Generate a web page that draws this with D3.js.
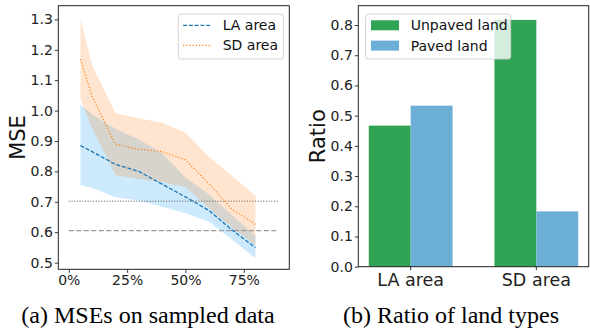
<!DOCTYPE html>
<html>
<head>
<meta charset="utf-8">
<script src="https://cdn.jsdelivr.net/npm/d3@7"></script>
<style>
  body { margin: 0; background: #fff; }
  svg { display: block; }
</style>
</head>
<body>
<svg id="fig" width="590" height="332"></svg>
<script>
// ---- data: left panel (MSE vs sampling ratio)
const fracs   = [0.05, 0.1, 0.2, 0.3, 0.4, 0.5, 0.6, 0.7, 0.8];
const laMean  = [0.885, 0.865, 0.823, 0.800, 0.758, 0.716, 0.672, 0.607, 0.549];
const laHigh  = [1.020, 0.988, 0.940, 0.905, 0.860, 0.780, 0.725, 0.655, 0.588];
const laLow   = [0.755, 0.745, 0.715, 0.704, 0.684, 0.662, 0.635, 0.575, 0.514];
const sdMean  = [1.169, 1.046, 0.889, 0.873, 0.865, 0.838, 0.760, 0.675, 0.626];
const sdHigh  = [1.300, 1.150, 0.991, 0.975, 0.960, 0.928, 0.849, 0.785, 0.720];
const sdLow   = [1.038, 0.942, 0.788, 0.775, 0.765, 0.748, 0.680, 0.615, 0.558];
const refDotted = 0.702;   // thin dotted reference
const refDashed = 0.605;   // gray dashed reference
const refSpan   = [0, 0.9];
const pctTicks  = [0, 0.25, 0.5, 0.75];
const mseTicks  = [0.5, 0.6, 0.7, 0.8, 0.9, 1.0, 1.1, 1.2, 1.3];
const lineNames = ["LA area", "SD area"];

// ---- data: right panel (land type ratio)
const areas      = ["LA area", "SD area"];
const landTypes  = ["Unpaved land", "Paved land"];
const unpaved    = [0.467, 0.817];
const paved      = [0.533, 0.183];
const ratioTicks = [0.0, 0.1, 0.2, 0.3, 0.4, 0.5, 0.6, 0.7, 0.8];

const captions = ["(a) MSEs on sampled data", "(b) Ratio of land types"];

const FONT = "'DejaVu Sans', sans-serif";
const svg = d3.select("#fig");

// ================= left panel =================
const L = { left: 58.3, right: 289.3, top: 5.7, bottom: 269.3 };
const x = d3.scaleLinear().domain([-0.045, 0.945]).range([L.left, L.right]);
const y = d3.scaleLinear().domain([0.478, 1.345]).range([L.bottom, L.top]);

svg.append("clipPath").attr("id", "clipL").append("rect")
  .attr("x", L.left).attr("y", L.top)
  .attr("width", L.right - L.left).attr("height", L.bottom - L.top);

const gl = svg.append("g").attr("clip-path", "url(#clipL)");
const idx = d3.range(fracs.length);

const band = (lo, hi) => d3.area()
  .x(i => x(fracs[i])).y0(i => y(lo[i])).y1(i => y(hi[i]));
const line = vals => d3.line().x(i => x(fracs[i])).y(i => y(vals[i]));

gl.append("path").attr("d", band(laLow, laHigh)(idx))
  .attr("fill", "rgb(0,150,240)").attr("fill-opacity", 0.2);
gl.append("path").attr("d", band(sdLow, sdHigh)(idx))
  .attr("fill", "#ff7f0e").attr("fill-opacity", 0.2);

// reference lines
gl.append("line")
  .attr("x1", x(refSpan[0])).attr("x2", x(refSpan[1]))
  .attr("y1", y(refDotted)).attr("y2", y(refDotted))
  .attr("stroke", "#555").attr("stroke-width", 1).attr("stroke-dasharray", "1,1.7");
gl.append("line")
  .attr("x1", x(refSpan[0])).attr("x2", x(refSpan[1]))
  .attr("y1", y(refDashed)).attr("y2", y(refDashed))
  .attr("stroke", "#999").attr("stroke-width", 1.3).attr("stroke-dasharray", "5,2.5");

gl.append("path").attr("d", line(laMean)(idx))
  .attr("fill", "none").attr("stroke", "#1f77b4").attr("stroke-width", 1.3)
  .attr("stroke-dasharray", "4,1.8");
gl.append("path").attr("d", line(sdMean)(idx))
  .attr("fill", "none").attr("stroke", "#ff7f0e").attr("stroke-width", 1.2)
  .attr("stroke-dasharray", "1.2,2");

function styleAxis(g, size) {
  g.select(".domain").remove();
  g.selectAll(".tick line").attr("stroke", "#222").attr("stroke-width", 0.9);
  g.selectAll(".tick text").attr("fill", "#222")
    .style("font-family", FONT).style("font-size", size + "px");
}

svg.append("g").attr("transform", `translate(0,${L.bottom})`)
  .call(d3.axisBottom(x).tickValues(pctTicks).tickFormat(d3.format(".0%"))
    .tickSize(3.5).tickPadding(2))
  .call(g => styleAxis(g, 14));
svg.append("g").attr("transform", `translate(${L.left},0)`)
  .call(d3.axisLeft(y).tickValues(mseTicks).tickFormat(d3.format(".1f"))
    .tickSize(3.5).tickPadding(2))
  .call(g => styleAxis(g, 14));

svg.append("rect").attr("x", L.left).attr("y", L.top)
  .attr("width", L.right - L.left).attr("height", L.bottom - L.top)
  .attr("fill", "none").attr("stroke", "#222").attr("stroke-width", 1);

svg.append("text").attr("transform", `translate(25,${(L.top + L.bottom) / 2}) rotate(-90)`)
  .attr("text-anchor", "middle").style("font-family", FONT).style("font-size", "21px")
  .attr("fill", "#111").text("MSE");

// legend (left)
const legL = svg.append("g");
legL.append("rect").attr("x", 178.3).attr("y", 14).attr("width", 105).attr("height", 45)
  .attr("rx", 2.5).attr("fill", "#fff").attr("fill-opacity", 0.8)
  .attr("stroke", "#d0d0d0").attr("stroke-width", 0.9);
const legStyles = [
  { color: "#1f77b4", dash: "4,1.8" },
  { color: "#ff7f0e", dash: "1.2,2" }
];
lineNames.forEach((name, i) => {
  const cy = 25.3 + i * 20;
  legL.append("line").attr("x1", 183).attr("x2", 212).attr("y1", cy).attr("y2", cy)
    .attr("stroke", legStyles[i].color).attr("stroke-width", 1.2)
    .attr("stroke-dasharray", legStyles[i].dash);
  legL.append("text").attr("x", 222.7).attr("y", cy).attr("dy", "0.36em")
    .style("font-family", FONT).style("font-size", "14px").attr("fill", "#111").text(name);
});

// ================= right panel =================
const R = { left: 358.3, right: 588.7, top: 5.7, bottom: 266.7 };
const x0 = d3.scaleBand().domain(areas).range([R.left, R.right])
  .paddingInner(1 / 3).paddingOuter(1 / 12);
const x1 = d3.scaleBand().domain(landTypes).range([0, x0.bandwidth()]).padding(0);
const yr = d3.scaleLinear().domain([0, 0.864]).range([R.bottom, R.top]);
const barColor = d3.scaleOrdinal().domain(landTypes).range(["#31a354", "#6baed6"]);

const rows = areas.map((a, i) => ({ area: a, vals: [unpaved[i], paved[i]] }));
svg.append("g").selectAll("g").data(rows).join("g")
  .attr("transform", d => `translate(${x0(d.area)},0)`)
  .selectAll("rect").data(d => d.vals.map((v, j) => ({ key: landTypes[j], v })))
  .join("rect")
  .attr("x", d => x1(d.key)).attr("width", x1.bandwidth())
  .attr("y", d => yr(d.v)).attr("height", d => yr(0) - yr(d.v))
  .attr("fill", d => barColor(d.key));

svg.append("g").attr("transform", `translate(0,${R.bottom})`)
  .call(d3.axisBottom(x0).tickSize(3.5).tickPadding(3))
  .call(g => styleAxis(g, 17.5));
svg.append("g").attr("transform", `translate(${R.left},0)`)
  .call(d3.axisLeft(yr).tickValues(ratioTicks).tickFormat(d3.format(".1f"))
    .tickSize(3.5).tickPadding(2))
  .call(g => styleAxis(g, 14));

svg.append("rect").attr("x", R.left).attr("y", R.top)
  .attr("width", R.right - R.left).attr("height", R.bottom - R.top)
  .attr("fill", "none").attr("stroke", "#222").attr("stroke-width", 1);

svg.append("text").attr("transform", `translate(325,${(R.top + R.bottom) / 2}) rotate(-90)`)
  .attr("text-anchor", "middle").style("font-family", FONT).style("font-size", "21px")
  .attr("fill", "#111").text("Ratio");

// legend (right)
const legR = svg.append("g");
legR.append("rect").attr("x", 365.7).attr("y", 14).attr("width", 145).attr("height", 45)
  .attr("rx", 2.5).attr("fill", "#fff").attr("fill-opacity", 0.8)
  .attr("stroke", "#d0d0d0").attr("stroke-width", 0.9);
landTypes.forEach((name, i) => {
  const cy = 25.3 + i * 20.3;
  legR.append("rect").attr("x", 371).attr("y", cy - 5).attr("width", 28).attr("height", 10)
    .attr("fill", barColor(name));
  legR.append("text").attr("x", 410.7).attr("y", cy).attr("dy", "0.36em")
    .style("font-family", FONT).style("font-size", "14px").attr("fill", "#111").text(name);
});

// ================= captions =================
svg.selectAll("text.cap").data(captions).join("text").attr("class", "cap")
  .attr("x", (d, i) => [148, 451][i]).attr("y", 323)
  .attr("text-anchor", "middle")
  .style("font-family", "'Liberation Serif', 'Times New Roman', serif")
  .style("font-size", "24px").attr("fill", "#000")
  .text(d => d);
</script>
</body>
</html>
